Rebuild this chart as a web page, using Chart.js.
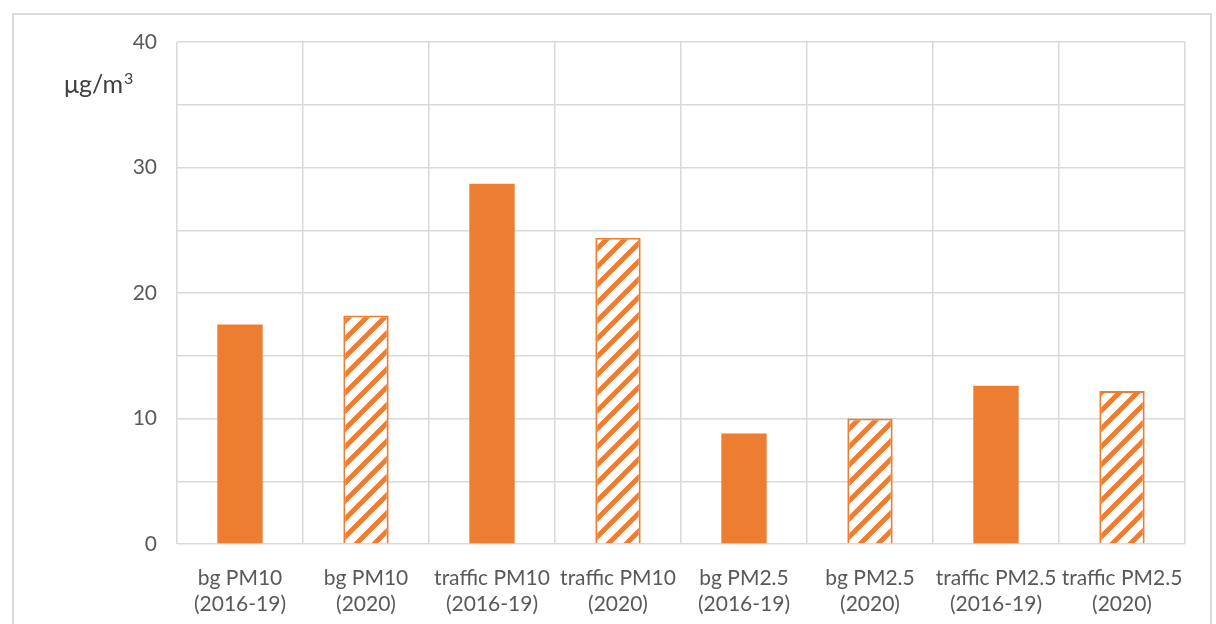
<!DOCTYPE html>
<html>
<head>
<meta charset="utf-8">
<script src="https://cdn.jsdelivr.net/npm/chart.js@4.4.1/dist/chart.umd.min.js"></script>
<style>
  html, body { margin: 0; padding: 0; background: #fff; }
</style>
</head>
<body>
<canvas id="pm" width="1216" height="624"></canvas>
<script>
// data -------------------------------->
const categories = [
  ['bg PM10', '(2016-19)'], ['bg PM10', '(2020)'],
  ['traffic PM10', '(2016-19)'], ['traffic PM10', '(2020)'],
  ['bg PM2.5', '(2016-19)'], ['bg PM2.5', '(2020)'],
  ['traffic PM2.5', '(2016-19)'], ['traffic PM2.5', '(2020)']
]
const values = [17.5, 18.2, 28.7, 24.4, 8.8, 10.0, 12.6, 12.2]
const hatched = [false, true, false, true, false, true, false, true]
const yTicks = [0, 10, 20, 30, 40]
const unitBase = 'μg/m'
const unitSup = '3'

const orange = '#ED7D31'
const grid = '#d9d9d9'

// hatch pattern
const makeHatch = () => {
  let s = 18
  let c = document.createElement('canvas')
  c.width = s; c.height = s
  let g = c.getContext('2d')
  g.fillStyle = '#fff'
  g.fillRect(0, 0, s, s)
  g.strokeStyle = orange
  g.lineWidth = 5
  g.beginPath()
  for (let k = -1; k <= 1; k++) {
    g.moveTo(k * s - 2, s + 2)
    g.lineTo(k * s + s + 2, -2)
  }
  g.stroke()
  return g.createPattern(c, 'repeat')
}
const hatch = makeHatch()

// frame + unit label
const extras = {
  id: 'extras',
  beforeDraw(chart) {
    let ctx = chart.ctx
    ctx.save()
    ctx.fillStyle = '#fff'
    ctx.fillRect(0, 0, chart.width, chart.height)
    ctx.strokeStyle = grid
    ctx.lineWidth = 2
    ctx.strokeRect(13, 14, 1198, 640)
    ctx.restore()
  },
  afterDraw(chart) {
    let ctx = chart.ctx
    ctx.save()
    ctx.fillStyle = '#404040'
    ctx.textBaseline = 'alphabetic'
    ctx.textAlign = 'left'
    ctx.font = '25px Lato'
    ctx.fillText(unitBase, 64, 93)
    let w = ctx.measureText(unitBase).width
    ctx.font = '16px Lato'
    ctx.fillText(unitSup, 64 + w + 1, 84)
    ctx.restore()
  }
}

new Chart(document.getElementById('pm'), {
  type: 'bar',
  data: {
    labels: categories,
    datasets: [{
      data: values,
      backgroundColor: hatched.map(h => h ? hatch : orange),
      borderColor: orange,
      borderWidth: hatched.map(h => h ? 2 : 0),
      barPercentage: 0.72,
      categoryPercentage: 0.5
    }]
  },
  options: {
    responsive: false,
    animation: false,
    devicePixelRatio: 1,
    layout: { padding: { left: 0, right: 31, top: 42, bottom: 0 } },
    plugins: { legend: { display: false }, tooltip: { enabled: false } },
    scales: {
      x: {
        grid: { color: grid, lineWidth: 1.5, drawTicks: false },
        border: { display: false },
        ticks: {
          color: '#595959', font: { family: 'Lato', size: 21 },
          padding: 22, maxRotation: 0, autoSkip: false
        },
        afterFit: (s) => { s.height = 80 }
      },
      y: {
        min: 0, max: 40,
        grid: { color: grid, lineWidth: 1.5, drawTicks: false },
        border: { display: false },
        ticks: {
          stepSize: 5,
          color: '#595959', font: { family: 'Lato', size: 21 },
          padding: 20,
          callback: (v) => yTicks.includes(v) ? v : ''
        },
        afterFit: (s) => { s.width = 177 }
      }
    }
  },
  plugins: [extras]
})
</script>
</body>
</html>
